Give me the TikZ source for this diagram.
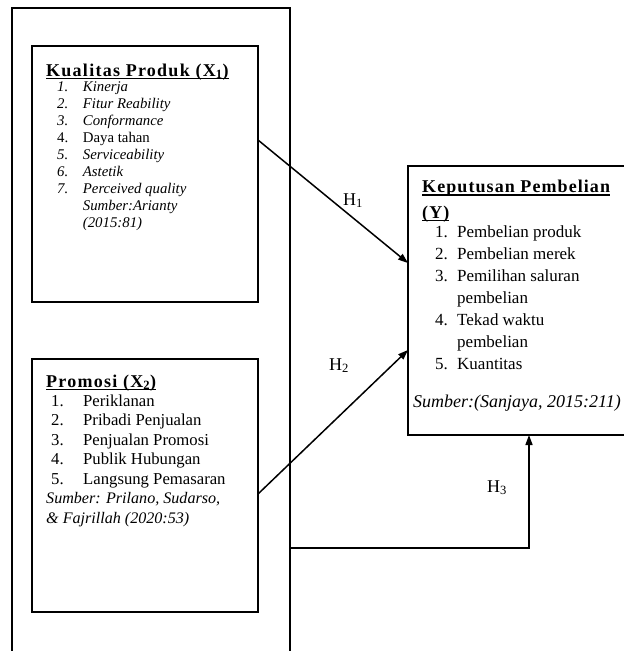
\documentclass[tikz,border=0pt]{standalone}
\usepackage{fontspec}
\setmainfont{Liberation Serif}
\usetikzlibrary{fit,arrows.meta}
\newcommand\myul[1]{\setbox0\hbox{#1}\rlap{\rule[-2.8pt]{\wd0}{1.2pt}}\box0}
\newcommand\myttl[3]{\myul{\fontsize{#1}{#1}\selectfont\bfseries\addfontfeature{LetterSpace=#2}#3}}
\tikzset{
  boxline/.style={draw, line width=1.8pt, inner sep=0pt},
  outerline/.style={line width=1.6pt},
  txt/.style={anchor=base west, inner sep=0pt, align=left},
  conn/.style={line width=1.5pt, -{Triangle[length=10pt,width=7pt]}},
  hlab/.style={anchor=base west, inner sep=0pt, font=\fontsize{18}{18}\selectfont},
}
\begin{document}
\begin{tikzpicture}[x=1pt,y=-1pt]
\useasboundingbox (0,0) rectangle (624,651);
% outer frame (open at bottom)
\coordinate (ol) at (12,665);
\coordinate (otl) at (12,8);
\coordinate (otr) at (290,8);
\coordinate (or) at (290,665);
\draw[outerline] (ol) -- (otl) -- (otr) -- (or);
% boxes
\node[boxline, fit={(32,46) (258,302)}] (kp) {};
\node[boxline, fit={(32,359) (258,612)}] (pr) {};
\node[boxline, fit={(408,166) (628,435)}] (kb) {};
% box 1 text
\node[txt] (kpt) at (46,76) {\fontsize{14.8}{17}\selectfont
\begin{tabular}[t]{@{}l@{}}
\myttl{18}{7}{Kualitas Produk (X\textsubscript{1})}\\[-1.3pt]
\hspace*{11pt}\makebox[25.7pt][l]{\itshape 1.}\textit{Kinerja}\\
\hspace*{11pt}\makebox[25.7pt][l]{\itshape 2.}\textit{Fitur Reability}\\
\hspace*{11pt}\makebox[25.7pt][l]{\itshape 3.}\textit{Conformance}\\
\hspace*{11pt}\makebox[25.7pt][l]{4.}Daya tahan\\
\hspace*{11pt}\makebox[25.7pt][l]{\itshape 5.}\textit{Serviceability}\\
\hspace*{11pt}\makebox[25.7pt][l]{\itshape 6.}\textit{Astetik}\\
\hspace*{11pt}\makebox[25.7pt][l]{\itshape 7.}\textit{Perceived quality}\\
\hspace*{36.7pt}\textit{Sumber:Arianty}\\
\hspace*{36.7pt}\textit{(2015:81)}
\end{tabular}};
% box 2 text
\node[txt] (prt) at (46,387) {\fontsize{16.7}{19.5}\selectfont
\begin{tabular}[t]{@{}l@{}}
\myttl{18}{7}{Promosi (X\textsubscript{2})}\\[-0.5pt]
\hspace*{5pt}\makebox[32pt][l]{1.}Periklanan\\
\hspace*{5pt}\makebox[32pt][l]{2.}Pribadi Penjualan\\
\hspace*{5pt}\makebox[32pt][l]{3.}Penjualan Promosi\\
\hspace*{5pt}\makebox[32pt][l]{4.}Publik Hubungan\\
\hspace*{5pt}\makebox[32pt][l]{5.}Langsung Pemasaran\\
{\fontsize{16.1}{19.5}\selectfont\textit{Sumber: Prilano, Sudarso,}}\\
{\fontsize{16.1}{19.5}\selectfont\textit{\& Fajrillah (2020:53)}}
\end{tabular}};
% box Y text
\node[txt] (kbt) at (413,192.7) {\fontsize{17}{22}\selectfont
\begin{tabular}[t]{@{}l@{}}
\hspace*{9pt}\myttl{18}{6}{Keputusan Pembelian}\\[3.3pt]
\hspace*{9pt}\myttl{18}{6}{(Y)}\\[-3pt]
\hspace*{22pt}\makebox[22pt][l]{1.}Pembelian produk\\
\hspace*{22pt}\makebox[22pt][l]{2.}Pembelian merek\\
\hspace*{22pt}\makebox[22pt][l]{3.}Pemilihan saluran\\
\hspace*{44pt}pembelian\\
\hspace*{22pt}\makebox[22pt][l]{4.}Tekad waktu\\
\hspace*{44pt}pembelian\\
\hspace*{22pt}\makebox[22pt][l]{5.}Kuantitas\\[16pt]
{\fontsize{18}{22}\selectfont\textit{Sumber:(Sanjaya, 2015:211)}}
\end{tabular}};
% connectors
\coordinate (h1s) at (258,140);
\coordinate (h1e) at (408,263);
\coordinate (h2s) at (258,494);
\coordinate (h2e) at (408,350);
\coordinate (h3s) at (290,548);
\coordinate (h3c) at (529,548);
\coordinate (h3e) at (529,435);
\draw[conn] (h1s) -- (h1e);
\draw[conn] (h2s) -- (h2e);
\draw[conn] (h3s) -- (h3c) -- (h3e);
\node[hlab] (l1) at (343,205) {H\textsubscript{1}};
\node[hlab] (l2) at (329,370) {H\textsubscript{2}};
\node[hlab] (l3) at (487,492) {H\textsubscript{3}};
\end{tikzpicture}
\end{document}
